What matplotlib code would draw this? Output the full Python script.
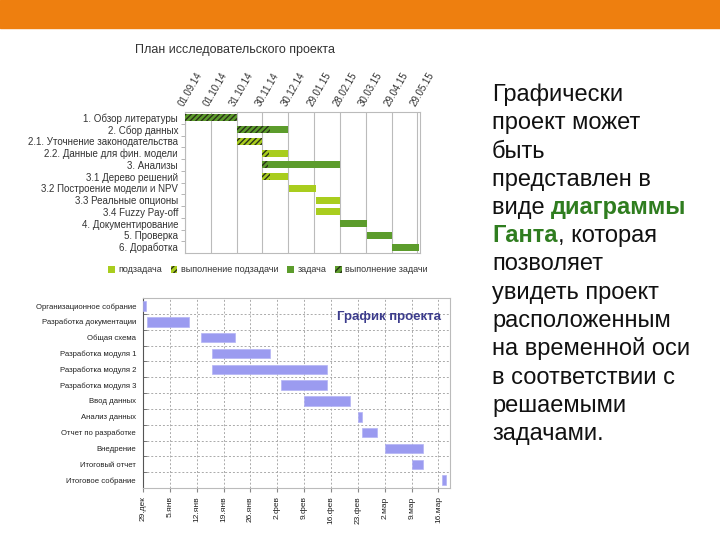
import matplotlib.pyplot as plt
from matplotlib.patches import Patch, Rectangle

plt.rcParams['font.family'] = ['Liberation Sans', 'DejaVu Sans']

# top chart: research plan (days from 01.09.14)
top_tasks = ["1. Обзор литературы", "2. Сбор данных", "2.1. Уточнение законодательства",
             "2.2. Данные для фин. модели", "3. Анализы", "3.1 Дерево решений",
             "3.2 Построение модели и NPV", "3.3 Реальные опционы", "3.4 Fuzzy Pay-off",
             "4. Документирование", "5. Проверка", "6. Доработка"]
top_start = [0, 60, 60, 90, 90, 90, 121, 152, 152, 180, 211, 241]
top_end = [60, 120, 90, 120, 180, 120, 152, 180, 180, 211, 241, 272]
top_done = [60, 99, 90, 98, 97, 99, 121, 152, 152, 180, 211, 241]
top_kind = ['task', 'task', 'sub', 'sub', 'task', 'sub', 'sub', 'sub', 'sub', 'task', 'task', 'task']
top_ticks = [0, 30, 60, 90, 120, 150, 180, 210, 240, 270]
top_ticklabels = ["01.09.14", "01.10.14", "31.10.14", "30.11.14", "30.12.14",
                  "29.01.15", "28.02.15", "30.03.15", "29.04.15", "29.05.15"]

# bottom chart: project schedule (days from 29 Dec)
bot_tasks = ["Организационное собрание", "Разработка документации", "Общая схема",
             "Разработка модуля 1", "Разработка модуля 2", "Разработка модуля 3",
             "Ввод данных", "Анализ данных", "Отчет по разработке", "Внедрение",
             "Итоговый отчет", "Итоговое собрание"]
bot_start = [0, 1, 15, 18, 18, 36, 42, 56, 57, 63, 70, 78]
bot_end = [0.8, 12, 24, 33, 48, 48, 54, 57, 61, 73, 73, 79]
bot_ticks = [0, 7, 14, 21, 28, 35, 42, 49, 56, 63, 70, 77]
bot_ticklabels = ["29.дек", "5.янв", "12.янв", "19.янв", "26.янв", "2.фев", "9.фев",
                  "16.фев", "23.фев", "2.мар", "9.мар", "16.мар"]

light = '#a9cd1e'
dark = '#5c9c2c'
hatch_col = '#2a3318'

fig = plt.figure(figsize=(7.2, 5.4), dpi=100)

# orange header band
fig.patches.append(Rectangle((0, 1 - 28 / 540), 1, 28 / 540, transform=fig.transFigure,
                             color='#ee7f0f', zorder=0))

# ---- top chart ----
ax1 = fig.add_axes([185 / 720, 1 - 253 / 540, 235 / 720, 141 / 540])
for i in range(len(top_tasks)):
    col = dark if top_kind[i] == 'task' else light
    ax1.barh(i, top_end[i] - top_start[i], left=top_start[i], height=0.6, color=col,
             linewidth=0, zorder=3)
    if top_done[i] > top_start[i]:
        ax1.barh(i, top_done[i] - top_start[i], left=top_start[i], height=0.6, color=col,
                 edgecolor=hatch_col, linewidth=0, hatch='//////', zorder=4)
ax1.set_xlim(0, 273)
ax1.set_ylim(len(top_tasks) - 0.5, -0.5)
ax1.set_yticks(range(len(top_tasks)))
ax1.set_yticklabels(top_tasks, fontsize=7, color='#333333')
ax1.tick_params(axis='y', length=0, pad=5)
ax1.set_yticks([i + 0.5 for i in range(len(top_tasks) - 1)], minor=True)
ax1.tick_params(axis='y', which='minor', length=3, color='#aaaaaa')
ax1.xaxis.tick_top()
ax1.set_xticks(top_ticks)
ax1.set_xticklabels(top_ticklabels, rotation=60, ha='left', rotation_mode='anchor',
                    fontsize=7, color='#333333')
ax1.tick_params(axis='x', length=0, pad=3)
ax1.grid(axis='x', color='#bbbbbb', linewidth=0.8, zorder=0)
for s in ax1.spines.values():
    s.set_color('#bbbbbb')
fig.text(235 / 720, 1 - 50 / 540, "План исследовательского проекта", fontsize=9,
         color='#333333', ha='center', va='center')

handles = [Patch(facecolor=light, linewidth=0),
           Patch(facecolor=light, edgecolor=hatch_col, linewidth=0, hatch='/////'),
           Patch(facecolor=dark, linewidth=0),
           Patch(facecolor=dark, edgecolor=hatch_col, linewidth=0, hatch='/////')]
fig.legend(handles, ["подзадача", "выполнение подзадачи", "задача", "выполнение задачи"],
           loc='center', bbox_to_anchor=(268 / 720, 1 - 270 / 540), ncol=4, frameon=False,
           fontsize=6.5, handlelength=0.7, handleheight=0.7, handletextpad=0.4,
           columnspacing=1.0, labelcolor='#333333')

# ---- bottom chart ----
ax2 = fig.add_axes([143 / 720, 1 - 488 / 540, 307 / 720, 190 / 540])
ax2.barh(range(len(bot_tasks)), [e - s for s, e in zip(bot_start, bot_end)], left=bot_start,
         height=0.6, color='#9b9bf0', edgecolor='#b4b4f5', linewidth=0.5, zorder=3)
ax2.set_xlim(0, 80)
ax2.set_ylim(len(bot_tasks) - 0.5, -0.5)
ax2.set_yticks(range(len(bot_tasks)))
ax2.set_yticklabels(bot_tasks, fontsize=5.6, color='#222222')
ax2.tick_params(axis='y', length=0, pad=5)
ax2.set_yticks([i + 0.5 for i in range(len(bot_tasks) - 1)], minor=True)
ax2.tick_params(axis='y', which='minor', length=3, direction='in', color='#666666')
ax2.set_xticks(bot_ticks)
ax2.set_xticklabels(bot_ticklabels, rotation=90, fontsize=6, color='#222222')
ax2.tick_params(axis='x', length=3, color='#888888', pad=3)
ax2.grid(axis='x', color='#aaaaaa', linestyle=(0, (2, 2)), linewidth=0.7, zorder=0)
ax2.grid(axis='y', which='minor', color='#aaaaaa', linestyle=(0, (2, 2)), linewidth=0.7, zorder=0)
for s in ax2.spines.values():
    s.set_color('#bbbbbb')
ax2.spines['left'].set_color('#555555')
ax2.text(0.97, 0.9, "График проекта", transform=ax2.transAxes, ha='right', va='center',
         fontsize=9.5, fontweight='bold', color='#3c3c8c')

# ---- right text ----
green = '#2f7d1f'
lines = [
    [("Графически", None)],
    [("проект может", None)],
    [("быть", None)],
    [("представлен в", None)],
    [("виде ", None), ("диаграммы", green)],
    [("Ганта", green), (", которая", None)],
    [("позволяет", None)],
    [("увидеть проект", None)],
    [("расположенным", None)],
    [("на временной оси", None)],
    [("в соответствии с", None)],
    [("решаемыми", None)],
    [("задачами.", None)],
]
renderer = fig.canvas.get_renderer()
y0 = 1 - 101 / 540
dy = 28.25 / 540
for k, parts in enumerate(lines):
    x = 492 / 720
    for txt, col in parts:
        t = fig.text(x, y0 - k * dy, txt, fontsize=17, va='baseline', ha='left',
                     color=col if col else '#111111',
                     fontweight='bold' if col else 'normal')
        bb = t.get_window_extent(renderer)
        x = bb.x1 / fig.bbox.width

fig.savefig('out.png', dpi=100)
